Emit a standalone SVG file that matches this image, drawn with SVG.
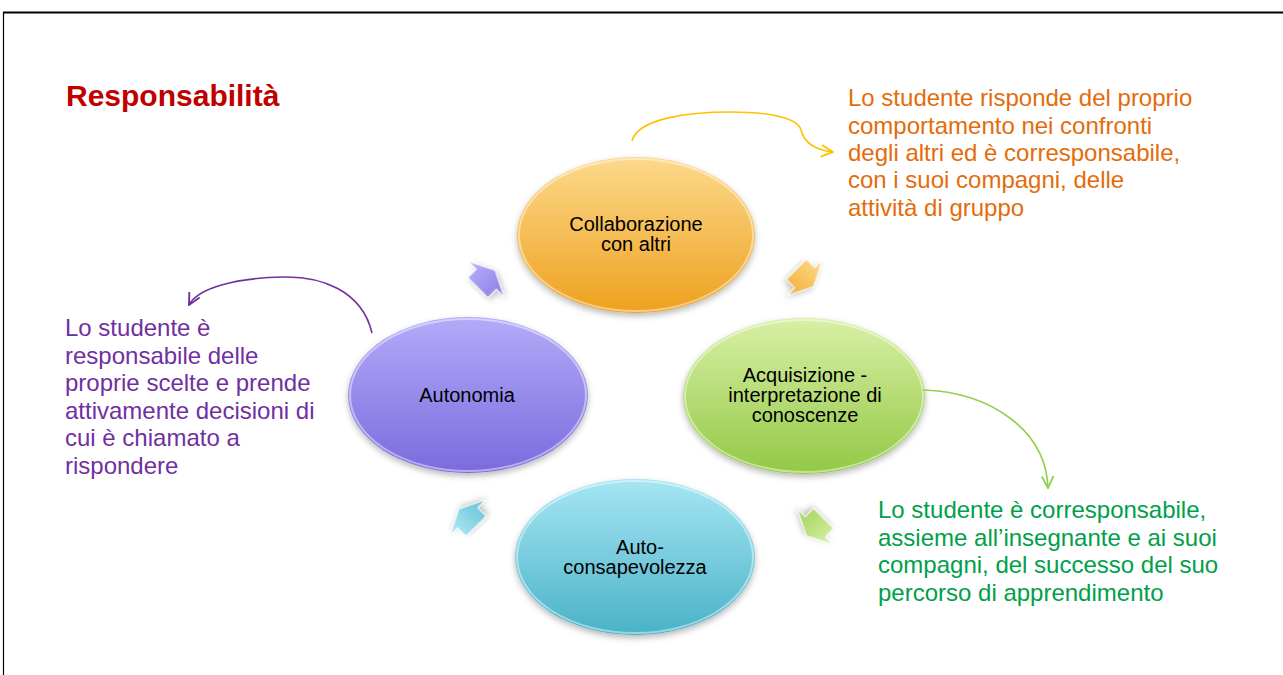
<svg xmlns="http://www.w3.org/2000/svg" width="1283" height="675" viewBox="0 0 1283 675">
<style>
  .t { font-family: "Liberation Sans", Arial, sans-serif; }
  .node { font-size: 20px; fill: #000; text-anchor: middle; }
  .desc { font-size: 24px; }
  .rim { fill: none; stroke: #fff; stroke-opacity: 0.45; stroke-width: 2; }
  .conn { fill: none; stroke-width: 1.6; }
</style>
<defs>
  <linearGradient id="gO" x1="0" y1="0" x2="0" y2="1"><stop offset="0" stop-color="#FCD98C"/><stop offset="1" stop-color="#EEA11F"/></linearGradient>
  <linearGradient id="gG" x1="0" y1="0" x2="0" y2="1"><stop offset="0" stop-color="#D8F0A6"/><stop offset="1" stop-color="#93C845"/></linearGradient>
  <linearGradient id="gB" x1="0" y1="0" x2="0" y2="1"><stop offset="0" stop-color="#A6E6F4"/><stop offset="1" stop-color="#4AB2C7"/></linearGradient>
  <linearGradient id="gP" x1="0" y1="0" x2="0" y2="1"><stop offset="0" stop-color="#B3ABF9"/><stop offset="1" stop-color="#7A6BDD"/></linearGradient>
  <linearGradient id="aO" x1="0" y1="0" x2="0" y2="1"><stop offset="0" stop-color="#FDDB8A"/><stop offset="1" stop-color="#F2AE37"/></linearGradient>
  <linearGradient id="aG" x1="0" y1="0" x2="0" y2="1"><stop offset="0" stop-color="#D9F1A8"/><stop offset="1" stop-color="#A2D25A"/></linearGradient>
  <linearGradient id="aB" x1="0" y1="0" x2="0" y2="1"><stop offset="0" stop-color="#B2EAF6"/><stop offset="1" stop-color="#62C2D6"/></linearGradient>
  <linearGradient id="aP" x1="0" y1="0" x2="0" y2="1"><stop offset="0" stop-color="#B8B1FA"/><stop offset="1" stop-color="#8A7DE6"/></linearGradient>
  <filter id="sh" x="-20%" y="-20%" width="140%" height="150%">
    <feDropShadow dx="0" dy="3" stdDeviation="3" flood-color="#000" flood-opacity="0.28"/>
  </filter>
  <polygon id="blk" points="-12,-14 0,-14 0,-24 12,0 0,24 0,14 -12,14"/>
  <marker id="mY" markerUnits="userSpaceOnUse" markerWidth="14" markerHeight="14" viewBox="0 0 12 12" refX="11" refY="6" orient="auto"><path d="M1,1 L11,6 L1,11" fill="none" stroke="#FFC000" stroke-width="1.6"/></marker>
  <marker id="mP" markerUnits="userSpaceOnUse" markerWidth="14" markerHeight="14" viewBox="0 0 12 12" refX="11" refY="6" orient="auto"><path d="M1,1 L11,6 L1,11" fill="none" stroke="#7030A0" stroke-width="1.6"/></marker>
  <marker id="mG" markerUnits="userSpaceOnUse" markerWidth="14" markerHeight="14" viewBox="0 0 12 12" refX="11" refY="6" orient="auto"><path d="M1,1 L11,6 L1,11" fill="none" stroke="#92D050" stroke-width="1.6"/></marker>
</defs>
<rect width="1283" height="675" fill="#fff"/>
<g id="frame" stroke="#000" fill="none">
  <line x1="3" y1="12.5" x2="1283" y2="12.5" stroke-width="2"/>
  <line x1="3.5" y1="12" x2="3.5" y2="675" stroke-width="1.2"/>
</g>
<text id="title" class="t" x="66" y="106" font-size="30" font-weight="bold" fill="#C00000">Responsabilità</text>

<g id="cycle-arrows">
  <use href="#blk" fill="url(#aP)" stroke="#fff" stroke-opacity="0.6" stroke-width="1" filter="url(#sh)" transform="translate(486.5,279) rotate(-45)"/>
  <use href="#blk" fill="url(#aO)" stroke="#fff" stroke-opacity="0.6" stroke-width="1" filter="url(#sh)" transform="translate(805,278) rotate(45)"/>
  <use href="#blk" fill="url(#aG)" stroke="#fff" stroke-opacity="0.6" stroke-width="1" filter="url(#sh)" transform="translate(815,527) rotate(135)"/>
  <use href="#blk" fill="url(#aB)" stroke="#fff" stroke-opacity="0.6" stroke-width="1" filter="url(#sh)" transform="translate(467.5,517.5) rotate(-135)"/>
</g>

<g id="node-collaborazione">
  <ellipse cx="636" cy="235" rx="119" ry="78" fill="url(#gO)" filter="url(#sh)"/>
  <ellipse class="rim" cx="636" cy="235" rx="117" ry="76"/>
  <text class="t node" x="636" y="231">Collaborazione</text>
  <text class="t node" x="636" y="251">con altri</text>
</g>
<g id="node-acquisizione">
  <ellipse cx="804" cy="396" rx="121" ry="78" fill="url(#gG)" filter="url(#sh)"/>
  <ellipse class="rim" cx="804" cy="396" rx="119" ry="76"/>
  <text class="t node" x="805" y="382">Acquisizione -</text>
  <text class="t node" x="805" y="402">interpretazione di</text>
  <text class="t node" x="805" y="422">conoscenze</text>
</g>
<g id="node-autoconsapevolezza">
  <ellipse cx="635" cy="557" rx="120" ry="78" fill="url(#gB)" filter="url(#sh)"/>
  <ellipse class="rim" cx="635" cy="557" rx="118" ry="76"/>
  <text class="t node" x="640" y="554">Auto-</text>
  <text class="t node" x="635" y="574">consapevolezza</text>
</g>
<g id="node-autonomia">
  <ellipse cx="468" cy="395" rx="120" ry="78" fill="url(#gP)" filter="url(#sh)"/>
  <ellipse class="rim" cx="468" cy="395" rx="118" ry="76"/>
  <text class="t node" x="467" y="402">Autonomia</text>
</g>

<g id="connectors">
  <path class="conn" stroke="#FFC000" marker-end="url(#mY)" d="M632,141 C638,118 690,112 730,112 C770,112 798,118 801,130 C804,142 815,150 833,152"/>
  <path class="conn" stroke="#7030A0" marker-end="url(#mP)" d="M372,333 C362,290 320,276 283,277 C235,278 198,288 189,305"/>
  <path class="conn" stroke="#92D050" marker-end="url(#mG)" d="M923,390 C990,392 1046,430 1048,488"/>
</g>

<g id="desc-collaborazione" class="t desc" fill="#E46C0A">
  <text x="848" y="106">Lo studente risponde del proprio</text>
  <text x="848" y="133.5">comportamento nei confronti</text>
  <text x="848" y="161">degli altri ed è corresponsabile,</text>
  <text x="848" y="188">con i suoi compagni, delle</text>
  <text x="848" y="215.5">attività di gruppo</text>
</g>
<g id="desc-autonomia" class="t desc" fill="#7030A0">
  <text x="65" y="336">Lo studente è</text>
  <text x="65" y="363.5">responsabile delle</text>
  <text x="65" y="391">proprie scelte e prende</text>
  <text x="65" y="418.5">attivamente decisioni di</text>
  <text x="65" y="446">cui è chiamato a</text>
  <text x="65" y="473.5">rispondere</text>
</g>
<g id="desc-acquisizione" class="t desc" fill="#00A04A">
  <text x="878" y="518">Lo studente è corresponsabile,</text>
  <text x="878" y="545.5">assieme all’insegnante e ai suoi</text>
  <text x="878" y="573">compagni, del successo del suo</text>
  <text x="878" y="600.5">percorso di apprendimento</text>
</g>
</svg>
